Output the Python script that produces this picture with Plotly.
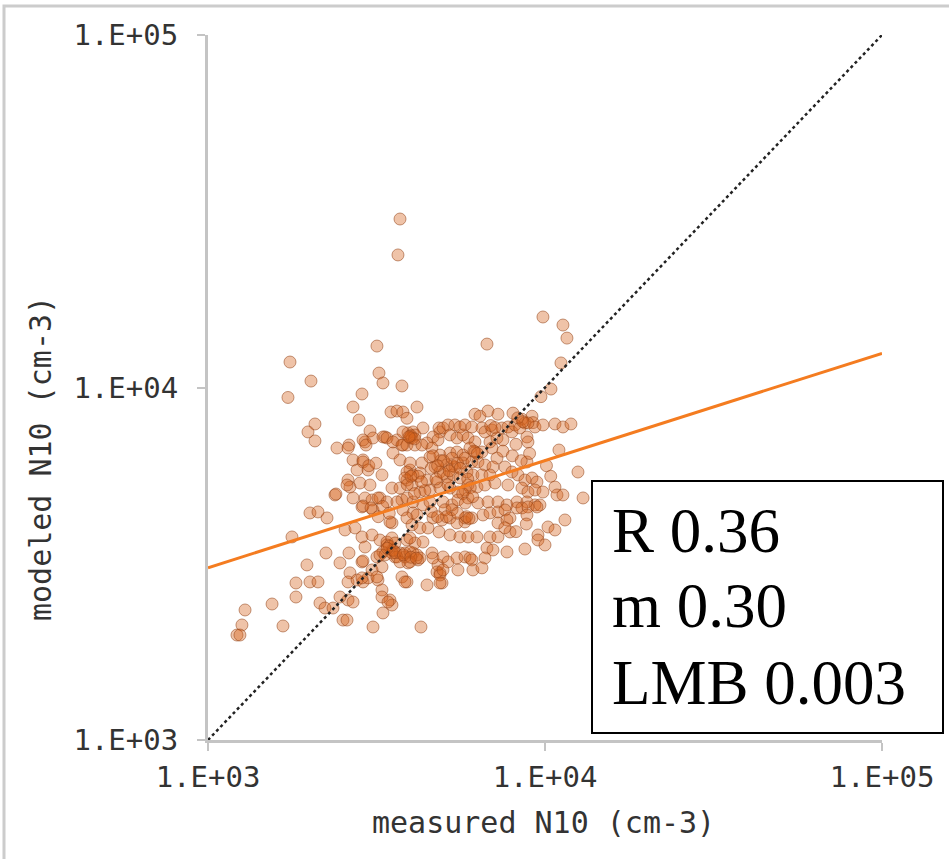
import plotly.graph_objects as go

# measured N10 (cm-3) and modeled N10 (cm-3)
measured = [
    3713, 3662, 3172, 1751, 2021, 1727, 3216, 3305, 3763, 2864, 2694, 4170, 2807, 2077, 1980, 2077,
    3491, 3637, 3789, 3894, 3025, 2414, 2620, 4344, 9861, 11305, 11618, 6727, 11152, 10416, 9727,
    11000, 12526, 12970,
    2924, 3351, 3637, 3789, 3921, 4058, 3975, 4880, 2694, 2884, 2884, 2769, 2985, 3283, 3539, 3713,
    3975, 3894, 2603, 2638, 2825, 3025, 2381, 2694, 2924, 3067, 3238, 3515, 3713, 3763, 3789, 4058,
    2864, 3088, 2007, 2120, 2255, 3515, 3894, 4170, 1775, 2550, 2731, 2864, 3067, 3238, 3397, 3515,
    3588, 3305, 3894, 4113, 3713, 2239, 2620, 2464, 2864, 3172, 3283, 3841, 4058, 4199, 1966, 3921,
    2638, 2884, 2985, 2603, 2769, 3194, 2007, 2120, 1824, 1824, 1549, 1288, 1261, 1219, 1244, 1669,
    2149, 2224, 2349, 2603, 2694, 2515, 2585, 3088, 3283, 3467, 3515, 3305, 3763, 3894, 4465, 4285,
    4947, 4880, 4814, 2603, 2585, 2397,
    2884, 2944, 3088, 3305, 3397, 3539, 3789, 4113, 4030, 4847, 4981, 5154, 5405, 5594, 4652, 4814,
    5224, 5479, 5709, 4465, 4620, 3763, 3894, 4113, 4314, 3975, 4314, 4558, 4880, 5224, 5479, 5709,
    3894, 4058, 3841, 4256, 4465, 4716, 4880, 5119, 5405, 5709, 5119, 5332, 5594, 4781, 4030, 4256,
    4558, 4880, 5224, 5517, 5788, 3194, 3397, 3637, 3894, 4058, 4344, 4558, 4981, 5296, 5517,
    6197, 6412, 6773, 7252, 8034, 8543, 8719, 9150, 9213, 9337, 9861, 10705, 11305, 11940, 5788,
    6070, 6500, 6636, 6960, 7453, 7764, 7979, 8145, 8427, 8839, 8900, 7203, 7504, 6866, 5908, 6197,
    5988, 6197, 6500, 6960, 7203, 5788, 6070, 6325, 6636, 7008, 7607, 7979, 8839, 5868, 6112, 6500,
    6866, 8313, 8719, 9150, 9465, 5908, 6282, 6636, 7105, 7764, 8543, 8900, 9337, 9861, 10705,
    10852, 11305, 5908, 6325, 6773, 7252, 7712, 8257, 8839, 9337, 9661, 8900,
    2884, 3046, 3467, 3975, 4344, 4847, 5224, 5594, 4030, 4256, 4496, 4652, 4947, 5224, 5479, 5788,
    2924, 3397, 3515, 3588, 3238, 3351, 3515, 3637, 3841, 3975, 4170, 4256, 3713, 3975, 4620, 4652,
    4981, 5154, 5479, 5788, 2884, 3067, 3172, 2864, 3841, 4781, 4880, 4981, 5517, 4880, 3283, 3421,
    2464,
    5788, 6070, 6545, 6866, 7252, 7607, 7871, 8257, 8543, 8900, 9465, 8839, 7252, 7712, 5908, 6282,
    6866, 7252, 7871, 6727, 7008, 7712, 8719, 9530, 9530, 10000, 10205, 10705, 11460, 5988, 6070,
    6636, 6112, 6500,
    4600, 4750, 5000, 5150, 4400, 4900, 5300, 4650, 4200, 5050,
    4000, 4100, 3950, 5000, 5300, 5500, 5200, 4800, 5600, 3450, 3550, 3400, 3600, 3800, 4000, 4150,
    5850, 5950, 6150, 6300, 8300, 8600, 6900, 7100, 5900, 6000, 5700, 5800, 6100, 5300, 5500, 5100,
    4600, 4800, 3900, 4100, 4300, 4000, 3300, 3450, 3200, 3000, 3150, 7500, 8000, 8500, 9000, 8200,
    10100, 10400, 7600, 8200, 8800,
]
modeled = [
    30060, 23770, 13110, 11810, 10430, 9370, 10990, 10300, 10100, 9585, 8803, 8803, 8085, 7880, 7480, 7053,
    8520, 8575, 8520, 8180, 7529, 6735, 6868, 7677, 15850, 15040, 13810, 13280, 11740, 9900, 9420,
    6647, 5758, 4860,
    7007, 7238, 7099, 6868, 7432, 7480, 7191, 7480, 6229, 6229, 6148, 5834, 5834, 5647, 6518, 6229,
    5834, 5465, 5465, 5220, 5359, 5289, 4956, 4860, 4860, 4797, 4860, 5186, 5186, 4797, 4494, 4407,
    4583, 4494, 4407, 4436, 4265, 4128, 4265, 4349, 3767, 3943, 3995, 3767, 3816, 3693, 3575, 3460,
    3306, 3415, 3693, 3621, 3393, 3393, 3393, 3179, 3200, 3306, 3098, 3306, 3393, 3242, 3138, 3179,
    2979, 2808, 2883, 2808, 2844, 2844, 2808, 2808, 2789, 2545, 2431, 2338, 2120, 1985, 1985, 2106,
    2447, 2368, 2368, 2496, 2463, 2189, 2189, 2092, 2665, 2496, 2415, 2293, 2901, 2808, 2753, 2092,
    2789, 2979, 3138, 6735, 5289, 4987,
    7099, 6868, 7191, 7238, 7191, 7007, 7480, 7334, 7191, 7677, 7677, 7829, 7829, 7727, 7238, 7099,
    7334, 7191, 7334, 6961, 6735, 6868, 6868, 6868, 6868, 6108, 6108, 6348, 6432, 6518, 6560, 6432,
    5758, 5647, 5537, 5720, 5465, 5950, 5758, 6028, 5950, 6108, 5573, 5647, 5537, 5394, 5289, 5052,
    5119, 5186, 5186, 5052, 5119, 4860, 4735, 4735, 4860, 4735, 4643, 4735, 4735, 4643, 4797,
    8400, 8290, 8575, 8400, 8460, 8130, 7930, 8290, 7950, 7727, 7829, 7880, 7727, 7880, 7829,
    7727, 7677, 7480, 7578, 7677, 7727, 7480, 7829, 7677, 7238, 7007, 7191, 7099, 7007, 7191, 7007,
    6735, 6560, 6560, 6735, 6306, 6306, 6148, 6148, 6028, 5950, 5950, 5758, 6148, 5758, 5647, 5647,
    5647, 5647, 5465, 5537, 5394, 5289, 5220, 5289, 5359, 5289, 5186, 5052, 5119, 5052, 5220,
    4956, 4956, 4860, 4704, 4735, 4735, 4643, 4735, 4735, 4643, 4643, 7930,
    4613, 4553, 4155, 3743, 3645, 3892, 3816, 3767, 4074, 3995, 3995, 4265, 4209, 4265, 4128, 4155,
    3528, 3645, 3743, 3621, 3349, 3349, 3393, 3306, 3393, 3415, 3349, 3284, 3200, 3200, 3393, 3284,
    3306, 3200, 3284, 3306, 3221, 3037, 2901, 2883, 2808, 2998, 2939, 3037, 3037, 2789, 2545, 2463,
    2545,
    4265, 4265, 4349, 4407, 4436, 4494, 4265, 4553, 4553, 4583, 4583, 4349, 4128, 4209, 3767, 3767,
    3767, 3767, 3892, 3505, 3460, 3415, 3482, 3816, 3693, 3575, 4021, 3943, 4209, 3284, 3242,
    3284, 3037, 3078,
    5900, 5500, 5700, 5300, 5100, 6200, 6000, 6400, 5600, 4500,
    7300, 7150, 7250, 6200, 6300, 6100, 5800, 6000, 5900, 3550, 3450, 3500, 3400, 3350, 3300, 3280,
    4300, 4250, 6600, 6500, 8200, 8000, 7800, 7700, 5500, 5200, 5000, 4700, 4900, 4500, 4400, 4300,
    4450, 4300, 5300, 5000, 5400, 5600, 4600, 4400, 4300, 6000, 6100, 6600, 6400, 6200, 6500, 6900,
    6000, 5600, 4000, 3900, 4100,
]

one_to_one = [1000, 100000]
fit_x = [1000, 100000]
fit_y = [3080, 12500]

tick_vals = [1000, 10000, 100000]
tick_text = ["1.E+03", "1.E+04", "1.E+05"]

stats = ["R 0.36", "m 0.30", "LMB 0.003"]

fig = go.Figure()
fig.add_trace(go.Scatter(
    x=measured, y=modeled, mode="markers",
    marker=dict(size=12, color="rgba(212,98,26,0.38)",
                line=dict(color="rgba(150,70,25,0.55)", width=1)),
    hoverinfo="skip", showlegend=False))
fig.add_trace(go.Scatter(
    x=one_to_one, y=one_to_one, mode="lines",
    line=dict(color="#222222", width=2.5, dash="dot"), showlegend=False))
fig.add_trace(go.Scatter(
    x=fit_x, y=fit_y, mode="lines",
    line=dict(color="#f47c20", width=3), showlegend=False))

tickfont = dict(family="DejaVu Sans Mono", size=29, color="#333333")
axis_common = dict(
    type="log", range=[3, 5], tickvals=tick_vals, ticktext=tick_text,
    showgrid=False, zeroline=False, showline=True, linecolor="#c4c4c4", linewidth=3,
    ticks="outside", ticklen=8, tickwidth=2, tickcolor="#c4c4c4", tickfont=tickfont,
)
fig.update_xaxes(**axis_common, ticklabelstandoff=1)
fig.update_yaxes(**axis_common, ticklabelstandoff=13)

# plot area targets screen x 208..882, y 35..740
def px_x(p):
    return (p - 208) / 674

def px_y(p):
    return (740 - p) / 705

shapes = [
    dict(type="rect", xref="paper", yref="paper", x0=px_x(4), y0=px_y(1000), x1=px_x(1000), y1=px_y(6),
         line=dict(color="#cccccc", width=3), fillcolor="rgba(0,0,0,0)", layer="below"),
    dict(type="rect", xref="paper", yref="paper", x0=px_x(592), y0=px_y(733), x1=px_x(943), y1=px_y(481),
         line=dict(color="#000000", width=2), fillcolor="white", layer="above"),
]

annotations = [
    dict(text="measured N10 (cm-3)", xref="paper", yref="paper", x=px_x(543), y=px_y(822),
         xanchor="center", yanchor="middle", showarrow=False,
         font=dict(family="DejaVu Sans Mono", size=30, color="#333333")),
    dict(text="modeled N10 (cm-3)", xref="paper", yref="paper", x=px_x(40), y=px_y(459),
         xanchor="center", yanchor="middle", showarrow=False, textangle=-90,
         font=dict(family="DejaVu Sans Mono", size=30, color="#333333")),
]
for txt, yc in zip(stats, [531, 606, 683]):
    annotations.append(dict(text=txt, xref="paper", yref="paper", x=px_x(610), y=px_y(yc),
                            xanchor="left", yanchor="middle", showarrow=False,
                            font=dict(family="Liberation Serif", size=63, color="#000000")))

fig.update_layout(
    width=949, height=859,
    margin=dict(l=208, r=67, t=35, b=119, autoexpand=False),
    paper_bgcolor="white", plot_bgcolor="white",
    shapes=shapes, annotations=annotations,
    showlegend=False,
)

fig.write_html("out.html", config={"displayModeBar": False},
               post_script="document.body.style.margin='0';")
